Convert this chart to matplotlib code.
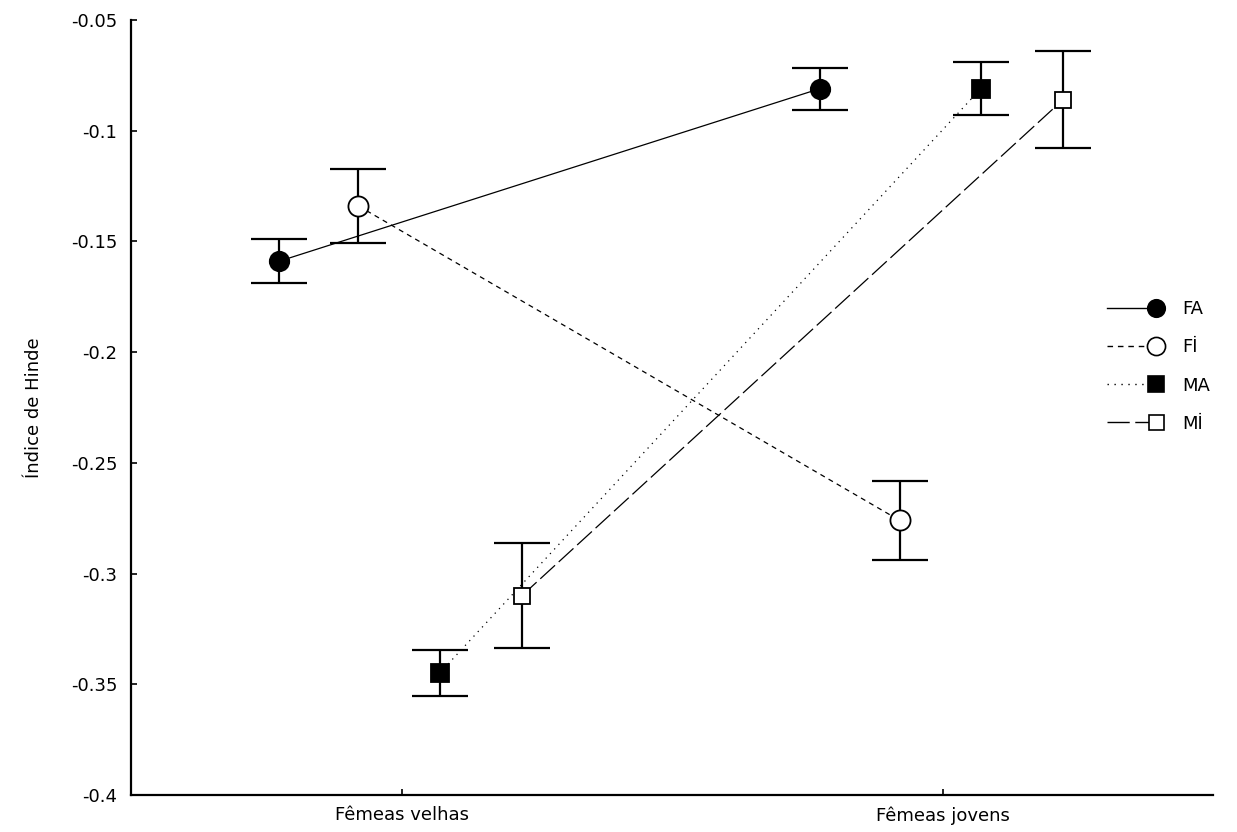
import matplotlib
matplotlib.use("Agg")
import matplotlib.pyplot as plt
from matplotlib.lines import Line2D
from matplotlib.legend_handler import HandlerBase

plt.rcParams['font.family'] = ['DejaVu Sans']

categories = ["Fêmeas velhas", "Fêmeas jovens"]
series = ["FA", "Fİ", "MA", "Mİ"]
means = {
    "FA": [-0.159, -0.081],
    "Fİ": [-0.134, -0.276],
    "MA": [-0.345, -0.081],
    "Mİ": [-0.310, -0.086],
}
errors = {
    "FA": [0.010, 0.0095],
    "Fİ": [0.0166, 0.0177],
    "MA": [0.0105, 0.012],
    "Mİ": [0.0236, 0.022],
}
yticks = [-0.4, -0.35, -0.3, -0.25, -0.2, -0.15, -0.1, -0.05]
ytick_labels = ["-0.4", "-0.35", "-0.3", "-0.25", "-0.2", "-0.15", "-0.1", "-0.05"]

offsets = {"FA": -0.227, "Fİ": -0.08, "MA": 0.07, "Mİ": 0.222}
styles = {
    "FA": dict(marker='o', mfc='black', ms=14, ls='-'),
    "Fİ": dict(marker='o', mfc='white', ms=14.5, ls=(0, (4, 3.5))),
    "MA": dict(marker='s', mfc='black', ms=12.5, ls=(0, (1, 4))),
    "Mİ": dict(marker='s', mfc='white', ms=12, ls=(0, (16, 4))),
}


class EndMarkerHandler(HandlerBase):
    def __init__(self, ls, **kw):
        super().__init__(**kw)
        self.ls = ls

    def create_artists(self, legend, orig, xdescent, ydescent, width, height, fontsize, trans):
        y = height / 2 - ydescent
        x0 = -xdescent
        x1 = -xdescent + width
        line = Line2D([x0, x1], [y, y], color='black', lw=1.0, linestyle=self.ls)
        mk = Line2D([x1], [y], linestyle='none', marker=orig.get_marker(),
                    ms=orig.get_markersize(), mfc=orig.get_markerfacecolor(),
                    mec='black', mew=orig.get_markeredgewidth())
        line.set_transform(trans)
        mk.set_transform(trans)
        return [line, mk]


fig = plt.figure(figsize=(12.37, 8.32), dpi=100)
ax = fig.add_axes([0.106, 0.0445, 0.875, 0.9315])

handles = []
hmap = {}
for s in series:
    st = styles[s]
    xs = [i + offsets[s] for i in range(len(categories))]
    ax.errorbar(xs, means[s], yerr=errors[s], fmt='none', ecolor='black',
                elinewidth=1.6, capsize=20.5, capthick=1.6, zorder=2)
    ax.plot(xs, means[s], color='black', lw=0.9, linestyle=st['ls'], zorder=3)
    ax.plot(xs, means[s], linestyle='none', marker=st['marker'], ms=st['ms'],
            mfc=st['mfc'], mec='black', mew=1.3, zorder=4)
    h = Line2D([], [], color='black', lw=1.0,
               marker=st['marker'], ms=st['ms'] * 0.9, mfc=st['mfc'], mec='black', mew=1.2)
    handles.append(h)
    hmap[h] = EndMarkerHandler(st['ls'])

ax.set_xlim(-0.5, 1.5)
ax.set_ylim(-0.4, -0.05)
ax.set_xticks(range(len(categories)))
ax.set_xticklabels(categories)
ax.set_yticks(yticks)
ax.set_yticklabels(ytick_labels)
ax.tick_params(axis='both', direction='in', length=4, width=1.2, labelsize=13, colors='black')
ax.tick_params(axis='y', pad=10)
ax.tick_params(axis='x', pad=8)
for sp in ['top', 'right']:
    ax.spines[sp].set_visible(False)
for sp in ['left', 'bottom']:
    ax.spines[sp].set_linewidth(1.6)
ax.set_ylabel("Índice de Hinde", fontsize=13, labelpad=20)

leg = ax.legend(handles, series, handler_map=hmap,
                loc='center left', bbox_to_anchor=(0.887, 0.553), frameon=False,
                fontsize=13, handlelength=2.7, handletextpad=1.45, labelspacing=1.12)

fig.savefig("out.png", dpi=100)
